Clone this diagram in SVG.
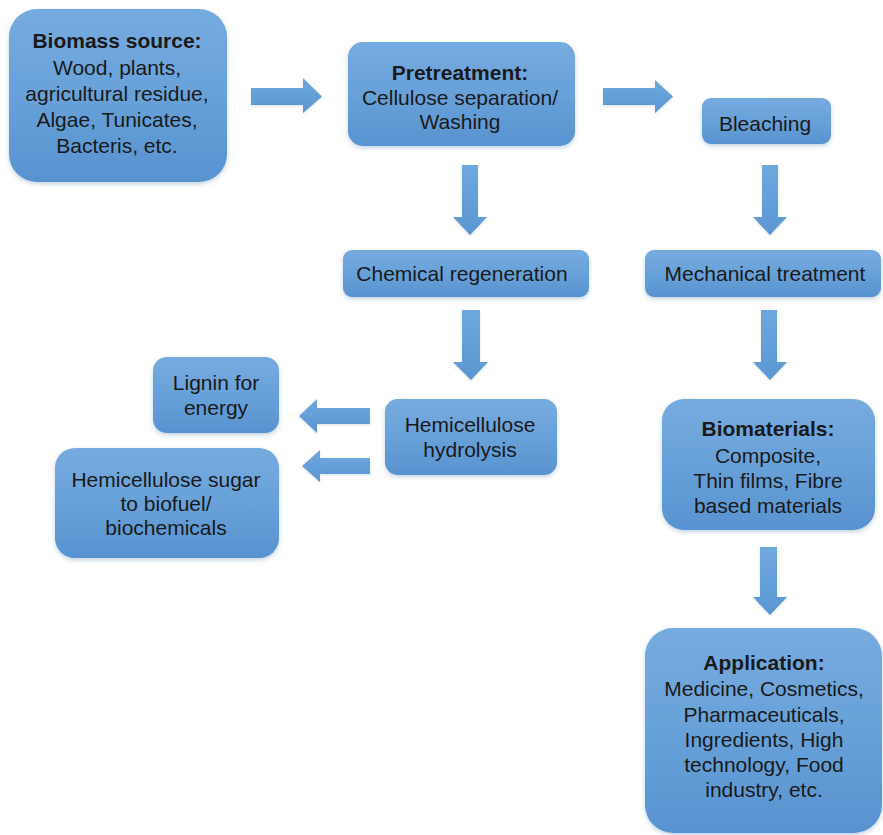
<svg xmlns="http://www.w3.org/2000/svg" width="883" height="835" viewBox="0 0 883 835">
<style>
.box{fill:url(#bg);filter:url(#sh)}
.t{font-family:"Liberation Sans",Arial,sans-serif;font-size:21px;fill:#1a1a1a;text-anchor:middle}
.b{font-weight:bold}
.arr{fill:url(#ag);filter:url(#ash)}
</style>
<defs>
<linearGradient id="bg" x1="0" y1="0" x2="0" y2="1">
<stop offset="0" stop-color="#76abdf"/>
<stop offset="0.5" stop-color="#68a1d9"/>
<stop offset="1" stop-color="#5893d0"/>
</linearGradient>
<linearGradient id="ag" x1="0" y1="0" x2="0" y2="1">
<stop offset="0" stop-color="#6fa8de"/>
<stop offset="1" stop-color="#5a96d2"/>
</linearGradient>
<filter id="sh" x="-10%" y="-10%" width="120%" height="125%">
<feDropShadow dx="0" dy="2" stdDeviation="2" flood-color="#3a6a9a" flood-opacity="0.3"/>
</filter>
<filter id="ash" x="-10%" y="-10%" width="120%" height="130%">
<feDropShadow dx="0" dy="1" stdDeviation="1" flood-color="#3a6a9a" flood-opacity="0.2"/>
</filter>
</defs>
<rect width="883" height="835" fill="#ffffff"/>

<g id="connectors">
<polygon class="arr" points="251,88 303,88 303,78 322,96.5 303,113 303,105 251,105"/>
<polygon class="arr" points="603,88 655,88 655,80 673,96.5 655,113 655,105 603,105"/>
<polygon class="arr" points="462,165 478,165 478,217 487,217 470,235 453,217 462,217"/>
<polygon class="arr" points="762,165 778,165 778,217 787,217 770,235 753,217 762,217"/>
<polygon class="arr" points="462,310 480,310 480,362 488,362 471,380 453,362 462,362"/>
<polygon class="arr" points="761,310 777,310 777,362 787,362 770,380 753,362 761,362"/>
<polygon class="arr" points="760,547 777,547 777,597 787,597 770,615 753,597 760,597"/>
<polygon class="arr" points="370,408 317,408 317,399 299,416 317,433 317,424 370,424"/>
<polygon class="arr" points="370,458 320,458 320,450 302,466 320,482 320,474 370,474"/>
</g>

<g id="biomass">
<rect class="box" x="9" y="9" width="218" height="173" rx="28"/>
<text class="t" x="117" y="48"><tspan class="b">Biomass source:</tspan><tspan x="117" dy="27">Wood, plants,</tspan><tspan x="117" dy="26">agricultural residue,</tspan><tspan x="117" dy="26">Algae, Tunicates,</tspan><tspan x="117" dy="26">Bacteris, etc.</tspan></text>
</g>

<g id="pretreatment">
<rect class="box" x="348" y="42" width="227" height="104" rx="15"/>
<text class="t" x="460" y="80"><tspan class="b">Pretreatment:</tspan><tspan x="460" dy="25">Cellulose separation/</tspan><tspan x="460" dy="24">Washing</tspan></text>
</g>

<g id="bleaching">
<rect class="box" x="702" y="98" width="129" height="46" rx="9"/>
<text class="t" x="765" y="131">Bleaching</text>
</g>

<g id="chemical">
<rect class="box" x="343" y="250" width="246" height="47" rx="9"/>
<text class="t" x="462" y="281">Chemical regeneration</text>
</g>

<g id="mechanical">
<rect class="box" x="645" y="250" width="236" height="47" rx="9"/>
<text class="t" x="765" y="281">Mechanical treatment</text>
</g>

<g id="hydrolysis">
<rect class="box" x="385" y="399" width="172" height="76" rx="13"/>
<text class="t" x="470" y="432"><tspan>Hemicellulose</tspan><tspan x="470" dy="25">hydrolysis</tspan></text>
</g>

<g id="lignin">
<rect class="box" x="153" y="357" width="126" height="76" rx="14"/>
<text class="t" x="216" y="390"><tspan>Lignin for</tspan><tspan x="216" dy="25">energy</tspan></text>
</g>

<g id="sugar">
<rect class="box" x="55" y="448" width="224" height="110" rx="20"/>
<text class="t" x="166" y="487"><tspan>Hemicellulose sugar</tspan><tspan x="166" dy="24">to biofuel/</tspan><tspan x="166" dy="24">biochemicals</tspan></text>
</g>

<g id="biomaterials">
<rect class="box" x="662" y="399" width="213" height="131" rx="22"/>
<text class="t" x="768" y="436"><tspan class="b">Biomaterials:</tspan><tspan x="768" dy="27">Composite,</tspan><tspan x="768" dy="25">Thin films, Fibre</tspan><tspan x="768" dy="25">based materials</tspan></text>
</g>

<g id="application">
<rect class="box" x="645" y="628" width="237" height="205" rx="28"/>
<text class="t" x="764" y="670"><tspan class="b">Application:</tspan><tspan x="764" dy="26">Medicine, Cosmetics,</tspan><tspan x="764" dy="26">Pharmaceuticals,</tspan><tspan x="764" dy="25">Ingredients, High</tspan><tspan x="764" dy="25">technology, Food</tspan><tspan x="764" dy="25">industry, etc.</tspan></text>
</g>
</svg>
